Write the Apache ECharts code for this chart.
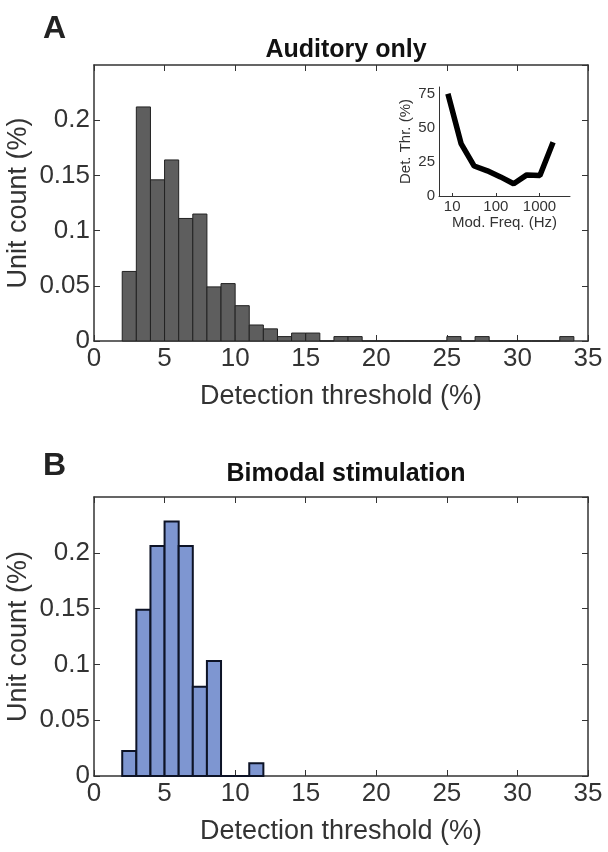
<!DOCTYPE html>
<html lang="en">
<head>
    <meta charset="UTF-8">
    <title>detection-threshold-histograms</title>
    <script src="https://cdn.jsdelivr.net/npm/echarts@6/dist/echarts.min.js"></script>
    <style>
        html, body, #main {
            padding: 0px;
            margin: 0px;
            width: 608px;
            height: 852px;
            background: #fff;
        }
    </style>
</head>
<body>
    <div id="main"></div>
    <script type="text/javascript">
        // histogram bins, width 1, starting at binStart
        const binStart = 2;
        const auditoryValues = [0.063, 0.212, 0.146, 0.164, 0.111, 0.115, 0.049, 0.052, 0.032, 0.0145,
            0.011, 0.004, 0.0072, 0.0072, 0, 0.004, 0.004, 0, 0, 0, 0, 0, 0, 0.004, 0, 0.004,
            0, 0, 0, 0, 0, 0.004];
        const bimodalValues = [0.0225, 0.149, 0.206, 0.228, 0.206, 0.080, 0.103, 0, 0, 0.0114];
        // inset: detection threshold vs modulation frequency
        const modFreqs = [8, 16, 32, 64, 128, 256, 512, 1024, 2048];
        const detThr = [75, 38.5, 22, 18.5, 14, 9, 15.5, 15, 39.5];
        const yTicks = [0, 0.05, 0.1, 0.15, 0.2];

        const font = 'Liberation Sans, Arial, sans-serif';
        const axisColor = '#333';

        function toBins(values) {
            return values.map((v, i) => [binStart + i, binStart + i + 1, v]);
        }

        function histSeries(gridIdx, values, fill, stroke, lw) {
            return {
                type: 'custom',
                xAxisIndex: gridIdx * 2,
                yAxisIndex: gridIdx * 2,
                data: toBins(values),
                renderItem: function (params, api) {
                    let p0 = api.coord([api.value(0), api.value(2)]);
                    let p1 = api.coord([api.value(1), 0]);
                    return {
                        type: 'rect',
                        shape: { x: p0[0], y: p0[1], width: p1[0] - p0[0], height: p1[1] - p0[1] },
                        style: { fill: fill, stroke: stroke, lineWidth: lw }
                    };
                }
            };
        }

        function mainX(gridIdx) {
            return [{
                gridIndex: gridIdx, type: 'value', min: 0, max: 35, interval: 5,
                name: 'Detection threshold (%)', nameLocation: 'middle', nameGap: 42,
                nameTextStyle: { fontSize: 27, color: axisColor, fontFamily: font },
                axisLine: { onZero: false, lineStyle: { color: axisColor, width: 1.5 } },
                axisTick: { inside: true, length: 6, lineStyle: { color: axisColor } },
                axisLabel: { fontSize: 26, color: axisColor, fontFamily: font, margin: 5 },
                splitLine: { show: false }
            }, {
                gridIndex: gridIdx, type: 'value', min: 0, max: 35, interval: 5, position: 'top',
                axisLine: { onZero: false, lineStyle: { color: axisColor, width: 1.5 } },
                axisTick: { inside: true, length: 6, lineStyle: { color: axisColor } },
                axisLabel: { show: false }, splitLine: { show: false }
            }];
        }

        function mainY(gridIdx) {
            return [{
                gridIndex: gridIdx, type: 'value', min: 0, max: 0.25, interval: 0.05,
                name: 'Unit count (%)', nameLocation: 'middle', nameGap: 62, nameMoveOverlap: false,
                nameTextStyle: { fontSize: 27, color: axisColor, fontFamily: font },
                axisLine: { show: true, onZero: false, lineStyle: { color: axisColor, width: 1.5 } },
                axisTick: { show: true, inside: true, length: 6, lineStyle: { color: axisColor } },
                axisLabel: {
                    fontSize: 26, color: axisColor, fontFamily: font, margin: 4, showMaxLabel: false,
                    formatter: v => yTicks.indexOf(+v.toFixed(2)) >= 0 ? String(+v.toFixed(2)) : ''
                },
                splitLine: { show: false }
            }, {
                gridIndex: gridIdx, type: 'value', min: 0, max: 0.25, interval: 0.05, position: 'right',
                axisLine: { show: true, onZero: false, lineStyle: { color: axisColor, width: 1.5 } },
                axisTick: { show: true, inside: true, length: 6, lineStyle: { color: axisColor } },
                axisLabel: { show: false }, splitLine: { show: false }
            }];
        }

        let chart = echarts.init(document.getElementById('main'), null, { renderer: 'canvas' });

        let xAxes = mainX(0).concat(mainX(1));
        let yAxes = mainY(0).concat(mainY(1));
        // inset axes
        xAxes.push({
            gridIndex: 2, type: 'log', logBase: 10, min: 5, max: 5000,
            name: 'Mod. Freq. (Hz)', nameLocation: 'middle', nameGap: 15,
            nameTextStyle: { fontSize: 15, color: axisColor, fontFamily: font },
            axisLine: { onZero: false, lineStyle: { color: axisColor, width: 1 } },
            axisTick: { inside: true, length: 3, lineStyle: { color: axisColor } },
            axisLabel: {
                fontSize: 15, color: axisColor, fontFamily: font, margin: 3,
                showMinLabel: false, showMaxLabel: false, formatter: v => String(Math.round(v))
            },
            splitLine: { show: false }
        });
        yAxes.push({
            gridIndex: 2, type: 'value', min: 0, max: 80, interval: 25,
            name: 'Det. Thr. (%)', nameLocation: 'middle', nameGap: 26,
            nameTextStyle: { fontSize: 15, color: axisColor, fontFamily: font },
            axisLine: { show: true, onZero: false, lineStyle: { color: axisColor, width: 1 } },
            axisTick: { show: false },
            axisLabel: { fontSize: 15, color: axisColor, fontFamily: font, margin: 4, showMaxLabel: false },
            splitLine: { show: false }
        });

        let option = {
            backgroundColor: '#fff',
            animation: false,
            title: [
                { text: 'A', left: 38, top: 8, textStyle: { fontSize: 32, fontWeight: 'bold', color: '#222', fontFamily: font } },
                { text: 'Auditory only', left: 341, top: 33, textAlign: 'center', textStyle: { fontSize: 25, fontWeight: 'bold', color: '#111', fontFamily: font } },
                { text: 'B', left: 38, top: 445, textStyle: { fontSize: 32, fontWeight: 'bold', color: '#222', fontFamily: font } },
                { text: 'Bimodal stimulation', left: 341, top: 457, textAlign: 'center', textStyle: { fontSize: 25, fontWeight: 'bold', color: '#111', fontFamily: font } }
            ],
            grid: [
                { left: 94, top: 65, width: 494, height: 276, outerBoundsMode: 'none', containLabel: false },
                { left: 94, top: 497, width: 494, height: 279, outerBoundsMode: 'none', containLabel: false },
                { left: 439, top: 87, width: 131, height: 109, outerBoundsMode: 'none', containLabel: false }
            ],
            xAxis: xAxes,
            yAxis: yAxes,
            series: [
                histSeries(0, auditoryValues, '#5e5e5e', '#222', 1),
                histSeries(1, bimodalValues, '#7e96d1', '#0d1326', 2),
                {
                    type: 'line',
                    xAxisIndex: 4, yAxisIndex: 4,
                    data: modFreqs.map((f, i) => [f, detThr[i]]),
                    showSymbol: false,
                    lineStyle: { color: '#000', width: 5.5 }
                }
            ]
        };
        chart.setOption(option);
    </script>
</body>
</html>
